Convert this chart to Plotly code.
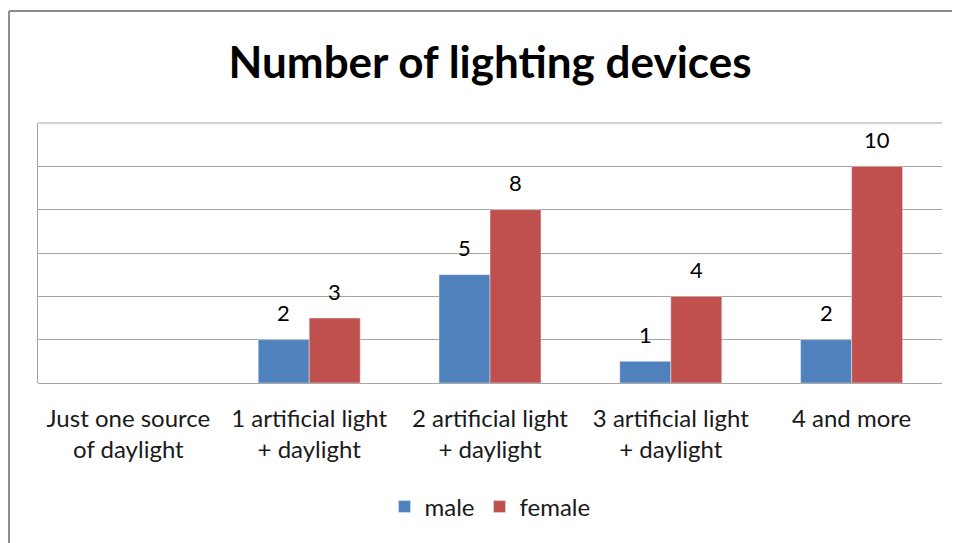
import plotly.graph_objects as go

categories = ["Just one source<br>of daylight", "1 artificial light<br>+ daylight",
              "2 artificial light<br>+ daylight", "3 artificial light<br>+ daylight", "4 and more"]
male = [None, 2, 5, 1, 2]
female = [None, 3, 8, 4, 10]

FONT = "Lato"
GRID = "#a6a6a6"
BAR_PX = 51  # half-group offset for the value labels

fig = go.Figure()
fig.add_trace(go.Bar(x=categories, y=male, name="male", marker_color="#4F81BD"))
fig.add_trace(go.Bar(x=categories, y=female, name="female", marker_color="#C0504D"))

# value labels sitting above each bar
for vals, shift in ((male, -BAR_PX / 2), (female, BAR_PX / 2)):
  for cat, v in zip(categories, vals):
    if v is None:
      continue
    fig.add_annotation(x=cat, y=v, text=str(v), showarrow=False, xshift=shift, yshift=27,
                       font=dict(size=22, color="#000000", family=FONT))

# page body has an 8px margin, so pull the plot up/left by 8px
fig.update_layout(
  width=960, height=543,
  margin=dict(l=30, r=26, t=115, b=168),
  paper_bgcolor="white", plot_bgcolor="white",
  barmode="group", bargap=0.436, bargroupgap=0,
  font=dict(family=FONT, color="#1a1a1a"),
  title=dict(text="<b>Number of lighting devices</b>", x=0.5, xref="paper", xanchor="center",
             y=1 - 55 / 543, yref="container", yanchor="middle",
             font=dict(size=44, color="#000000", family=FONT)),
  legend=dict(orientation="h", x=0.5, xanchor="center", y=-0.477, yanchor="middle",
              font=dict(size=24, family=FONT, color="#1a1a1a"), itemwidth=30),
  showlegend=True,
)
fig.update_xaxes(showline=False, ticks="", ticklabelstandoff=19,
                 tickfont=dict(size=24, family=FONT, color="#1a1a1a"))
fig.update_yaxes(range=[0, 12], dtick=2, showticklabels=False, showgrid=True, gridcolor=GRID,
                 gridwidth=1, zeroline=True, zerolinecolor=GRID, zerolinewidth=1,
                 showline=True, linecolor=GRID, linewidth=1, mirror=False)

# top gridline at the range edge
fig.add_shape(type="line", xref="paper", yref="paper", x0=0, x1=1, y0=1, y1=1,
              line=dict(color=GRID, width=1))

# outer chart frame (top and left edges visible)
fx0 = (9 - 38) / 904
fy = (383 - 11) / 260
fig.add_shape(type="line", xref="paper", yref="paper", x0=fx0, x1=1.05, y0=fy, y1=fy,
              line=dict(color="#8c8c8c", width=2))
fig.add_shape(type="line", xref="paper", yref="paper", x0=fx0, x1=fx0, y0=fy, y1=-0.7,
              line=dict(color="#8c8c8c", width=2))

fig.write_html("out.html")
